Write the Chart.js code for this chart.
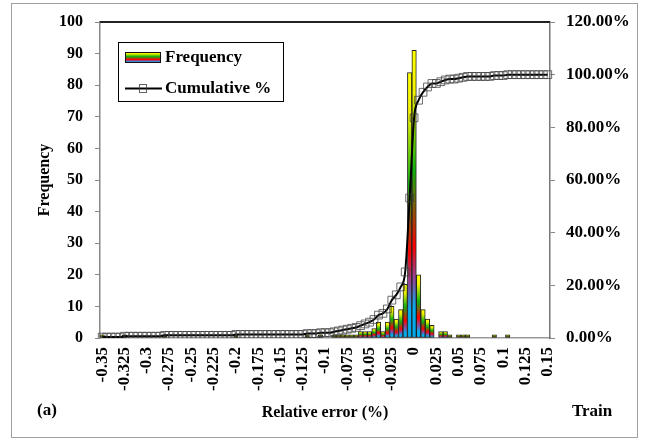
<!DOCTYPE html>
<html>
<head>
<meta charset="utf-8">
<script src="https://cdn.jsdelivr.net/npm/chart.js@4.4.1/dist/chart.umd.min.js"></script>
<style>
  html, body { margin: 0; padding: 0; background: #fff; }
  canvas { display: block; }
</style>
</head>
<body>
<canvas id="errorChart" width="645" height="441"></canvas>
<script>
// Relative error bins (%), 0.005 wide
const bins = [
  "-0.35", "-0.345", "-0.34", "-0.335", "-0.33", "-0.325", "-0.32", "-0.315", "-0.31", "-0.305",
  "-0.3", "-0.295", "-0.29", "-0.285", "-0.28", "-0.275", "-0.27", "-0.265", "-0.26", "-0.255",
  "-0.25", "-0.245", "-0.24", "-0.235", "-0.23", "-0.225", "-0.22", "-0.215", "-0.21", "-0.205",
  "-0.2", "-0.195", "-0.19", "-0.185", "-0.18", "-0.175", "-0.17", "-0.165", "-0.16", "-0.155",
  "-0.15", "-0.145", "-0.14", "-0.135", "-0.13", "-0.125", "-0.12", "-0.115", "-0.11", "-0.105",
  "-0.1", "-0.095", "-0.09", "-0.085", "-0.08", "-0.075", "-0.07", "-0.065", "-0.06", "-0.055",
  "-0.05", "-0.045", "-0.04", "-0.035", "-0.03", "-0.025", "-0.02", "-0.015", "-0.01", "-0.005",
  "0", "0.005", "0.01", "0.015", "0.02", "0.025", "0.03", "0.035", "0.04", "0.045",
  "0.05", "0.055", "0.06", "0.065", "0.07", "0.075", "0.08", "0.085", "0.09", "0.095",
  "0.1", "0.105", "0.11", "0.115", "0.12", "0.125", "0.13", "0.135", "0.14", "0.145",
  "0.15"
];

// Counts per bin
const frequency = [
  1, 0, 0, 0, 0, 1, 0, 0, 0, 0,
  0, 0, 0, 0, 1, 0, 0, 0, 0, 0,
  0, 0, 0, 0, 0, 0, 0, 0, 0, 0,
  1, 0, 0, 0, 0, 0, 0, 0, 0, 0,
  0, 0, 0, 0, 0, 0, 1, 0, 0, 1,
  0, 0, 1, 1, 1, 1, 1, 1, 2, 2,
  2, 3, 5, 2, 5, 10, 6, 9, 17, 84,
  91, 20, 9, 6, 4, 0, 2, 2, 1, 0,
  1, 1, 1, 0, 0, 0, 0, 0, 1, 0,
  0, 1, 0, 0, 0, 0, 0, 0, 0, 0,
  0
];

// Running share of all counts up to each bin
const total = frequency.reduce((s, v) => s + v, 0);
let running = 0;
const cumulative = frequency.map(v => { running += v; return running / total; });

const leftTicks = { min: 0, max: 100, step: 10 };
const rightTicks = { min: 0, max: 1.2, step: 0.2 };

const serif = '"Liberation Serif", "Times New Roman", serif';

// yellow -> green -> red -> blue, top of bar to its base
function barGradient(c, top, base) {
  const g = c.createLinearGradient(0, top, 0, base);
  g.addColorStop(0, '#ffff00');
  g.addColorStop(0.15, '#f2f200');
  g.addColorStop(0.42, '#10b010');
  g.addColorStop(0.68, '#ff0000');
  g.addColorStop(0.8, '#8a4aa0');
  g.addColorStop(0.9, '#00b0f0');
  g.addColorStop(1, '#00a8ee');
  return g;
}

const decorations = {
  id: 'decorations',
  beforeDraw(chart) {
    const c = chart.ctx;
    c.save();
    c.fillStyle = '#fff';
    c.fillRect(0, 0, chart.width, chart.height);
    c.restore();
  },
  afterDraw(chart) {
    const c = chart.ctx;
    const a = chart.chartArea;
    c.save();

    // frame top
    c.strokeStyle = '#222';
    c.lineWidth = 2;
    c.beginPath();
    c.moveTo(a.left, a.top);
    c.lineTo(a.right, a.top);
    c.stroke();

    // outer border
    c.strokeStyle = '#a0a0a0';
    c.lineWidth = 1;
    c.strokeRect(11.5, 3.5, 626, 434);

    // legend box
    c.fillStyle = '#fff';
    c.fillRect(118, 42, 165, 59);
    c.strokeStyle = '#000';
    c.lineWidth = 1;
    c.strokeRect(118.5, 42.5, 165, 59);

    c.fillStyle = barGradient(c, 52, 63);
    c.fillRect(125, 52, 36, 11);
    c.strokeStyle = '#111';
    c.strokeRect(125.5, 52.5, 35, 10);

    c.strokeStyle = '#000';
    c.lineWidth = 2;
    c.beginPath();
    c.moveTo(125, 88.5);
    c.lineTo(162, 88.5);
    c.stroke();
    c.strokeStyle = 'rgba(60,60,60,0.8)';
    c.lineWidth = 1;
    c.strokeRect(139.5, 84.5, 7, 8);

    c.fillStyle = '#000';
    c.font = 'bold 17px ' + serif;
    c.textBaseline = 'middle';
    c.textAlign = 'left';
    c.fillText('Frequency', 165, 58);
    c.fillText('Cumulative %', 165, 89);

    c.fillText('(a)', 37, 411);
    c.fillText('Train', 572, 412);
    c.restore();
  }
};

new Chart(document.getElementById('errorChart'), {
  type: 'bar',
  data: {
    labels: bins,
    datasets: [
      {
        type: 'line',
        label: 'Cumulative %',
        data: cumulative,
        yAxisID: 'y1',
        order: 0,
        borderColor: '#000',
        borderWidth: 2,
        cubicInterpolationMode: 'monotone',
        pointStyle: 'rect',
        pointRadius: 5.5,
        pointBorderWidth: 1,
        pointBorderColor: 'rgba(60,60,60,0.75)',
        pointBackgroundColor: 'rgba(0,0,0,0)'
      },
      {
        label: 'Frequency',
        data: frequency,
        yAxisID: 'y',
        order: 1,
        barPercentage: 1,
        categoryPercentage: 1,
        borderWidth: 1,
        borderColor: '#222',
        borderSkipped: false,
        backgroundColor(ctx) {
          const chart = ctx.chart;
          if (!chart.chartArea || ctx.type !== 'data' || !chart.scales.y) return '#00b0f0';
          const top = chart.scales.y.getPixelForValue(ctx.raw);
          const base = chart.scales.y.getPixelForValue(0);
          if (base - top < 1) return '#00b0f0';
          return barGradient(chart.ctx, top, base);
        }
      }
    ]
  },
  options: {
    responsive: false,
    animation: false,
    layout: { padding: { top: 22, left: 0, right: 0, bottom: 0 } },
    plugins: {
      legend: { display: false },
      tooltip: { enabled: false }
    },
    scales: {
      x: {
        offset: true,
        grid: { drawOnChartArea: false, drawTicks: false },
        border: { color: '#999', width: 1.5 },
        ticks: {
          autoSkip: false,
          minRotation: 90,
          maxRotation: 90,
          padding: 9,
          color: '#000',
          font: { family: serif, size: 17, weight: 'bold' },
          callback(val, i) { return i % 5 === 0 ? this.getLabelForValue(val) : ''; }
        },
        title: {
          display: true,
          text: 'Relative error (%)',
          color: '#000',
          font: { family: serif, size: 16, weight: 'bold' },
          padding: { top: 0, bottom: 19 }
        },
        afterFit(scale) { scale.height = 103; }
      },
      y: {
        position: 'left',
        min: leftTicks.min,
        max: leftTicks.max,
        grid: { drawOnChartArea: false, drawTicks: true, tickLength: 5, color: '#888' },
        border: { color: '#888', width: 1.5 },
        ticks: {
          stepSize: leftTicks.step,
          padding: 12,
          color: '#000',
          font: { family: serif, size: 16, weight: 'bold' }
        },
        title: {
          display: true,
          text: 'Frequency',
          color: '#000',
          font: { family: serif, size: 16, weight: 'bold' },
          padding: { top: 35, bottom: 0 }
        },
        afterFit(scale) { scale.width = 100; }
      },
      y1: {
        position: 'right',
        min: rightTicks.min,
        max: rightTicks.max,
        grid: { drawOnChartArea: false, drawTicks: true, tickLength: 5, color: '#888' },
        border: { color: '#777', width: 1.5 },
        ticks: {
          stepSize: rightTicks.step,
          padding: 11,
          color: '#000',
          font: { family: serif, size: 17, weight: 'bold' },
          callback: v => (v * 100).toFixed(2) + '%'
        },
        afterFit(scale) { scale.width = 95; }
      }
    }
  },
  plugins: [decorations]
});
</script>
</body>
</html>
